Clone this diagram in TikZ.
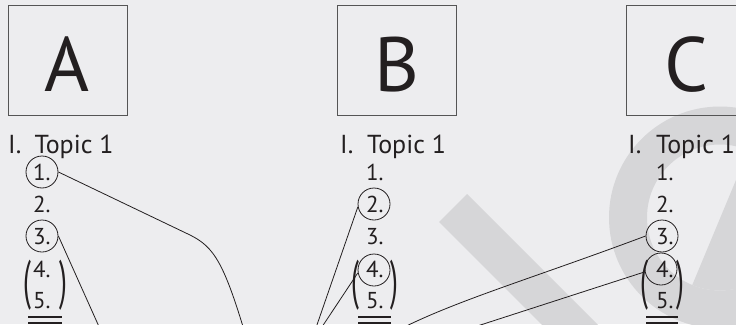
\documentclass[tikz,border=0pt]{standalone}
\usepackage{fontspec}
\setmainfont{PT Sans}
\definecolor{bg}{RGB}{237,237,239}
\definecolor{wm}{RGB}{214,214,216}
\definecolor{ink}{RGB}{35,31,32}
\definecolor{frame}{RGB}{85,85,85}
\begin{document}
\begin{tikzpicture}[x=1pt,y=-1pt,
  letterbox/.style={draw=frame, line width=0.9pt, minimum width=119pt, minimum height=110pt, inner sep=0pt,
    text height=61pt, text depth=0pt, font=\fontsize{77}{80}\selectfont, text=ink},
  topic/.style={anchor=base west, inner sep=0pt, font=\fontsize{26}{30}\selectfont, text=ink},
  num/.style={anchor=base west, inner sep=0pt, font=\fontsize{23}{27}\selectfont, text=ink},
  ringnode/.style={circle, draw=ink, line width=0.8pt, minimum size=32pt, inner sep=0pt},
  paren/.style={inner sep=0pt, font=\fontsize{40}{44}\selectfont, text=ink},
  link/.style={draw=ink, line width=0.8pt},
  rulebar/.style={draw=ink, line width=1.3pt}]
\useasboundingbox (0,0) rectangle (736,324);
\fill[bg] (0,0) rectangle (736,324);
\clip (0,0) rectangle (736,324);
% watermark
\fill[wm] (439,222) -- (467,194) -- (667,394) -- (639,422) -- cycle;
\fill[wm, even odd rule] (720,217.5) circle (111pt) (720,217.5) circle (73pt);
\begin{scope}
  \clip (720,217.5) circle (73pt);
  \fill[wm] (661,360) -- (761,120) -- (800,120) -- (800,360) -- cycle;
\end{scope}

% boxes
\node[letterbox] (boxA) at (67.5,60.5) {A};
\node[letterbox] (boxB) at (397,60.5) {B};
\node[letterbox] (boxC) at (686,60.5) {C};

% column A
\node[topic] (aI) at (8,153) {I.};
\node[topic] (aT) at (34.5,153) {Topic 1};
\node[num] (an1) at (33,180) {1.};
\node[num] (an2) at (33,212) {2.};
\node[num] (an3) at (33,244) {3.};
\node[num] (an4) at (33,277) {4.};
\node[num] (an5) at (33,308) {5.};
\node[paren] (apl) at (27,285) {\scalebox{0.7}[1.35]{(}};
\node[paren] (apr) at (63,285) {\scalebox{0.7}[1.35]{)}};
\draw[rulebar] (28,317) -- (62,317) (28,323) -- (62,323);
\node[ringnode] (a1) at (42,172) {};
\node[ringnode] (a3) at (42,236) {};

% column B
\node[topic] (bI) at (340,153) {I.};
\node[topic] (bT) at (367,153) {Topic 1};
\node[num] (bn1) at (366,180) {1.};
\node[num] (bn2) at (366,212) {2.};
\node[num] (bn3) at (366,244) {3.};
\node[num] (bn4) at (366,277) {4.};
\node[num] (bn5) at (366,308) {5.};
\node[paren] (bpl) at (355,285) {\scalebox{0.7}[1.35]{(}};
\node[paren] (bpr) at (394,285) {\scalebox{0.7}[1.35]{)}};
\draw[rulebar] (358,317) -- (391,317) (358,323) -- (391,323);
\node[ringnode] (b2) at (374,204) {};
\node[ringnode] (b4) at (374,270) {};

% column C
\node[topic] (cI) at (628,153) {I.};
\node[topic] (cT) at (656,153) {Topic 1};
\node[num] (cn1) at (656,180) {1.};
\node[num] (cn2) at (656,212) {2.};
\node[num] (cn3) at (656,244) {3.};
\node[num] (cn4) at (656,277) {4.};
\node[num] (cn5) at (656,308) {5.};
\node[paren] (cpl) at (644,285) {\scalebox{0.7}[1.35]{(}};
\node[paren] (cpr) at (680,285) {\scalebox{0.7}[1.35]{)}};
\draw[rulebar] (646,317) -- (678,317) (646,323) -- (678,323);
\node[ringnode] (c3) at (662,236) {};
\node[ringnode] (c4) at (661,269) {};

% connector ends (below the visible area)
\coordinate (a1end) at (247,340);
\coordinate (a3end) at (105,340);
\coordinate (bend) at (310,345);
\coordinate (c3end) at (380,340);
\coordinate (c4end) at (434,340);

\draw[link] (a1.east) -- (190,235) .. controls (214,247) and (224,262) .. (a1end);
\draw[link] (a3.east) -- (a3end);
\draw[link] (b2.190) -- (bend);
\draw[link] (b4.190) -- (bend);
\draw[link] (c3.west) .. controls (520,283) and (440,305) .. (c3end);
\draw[link] (c4.190) -- (c4end);
\end{tikzpicture}
\end{document}
